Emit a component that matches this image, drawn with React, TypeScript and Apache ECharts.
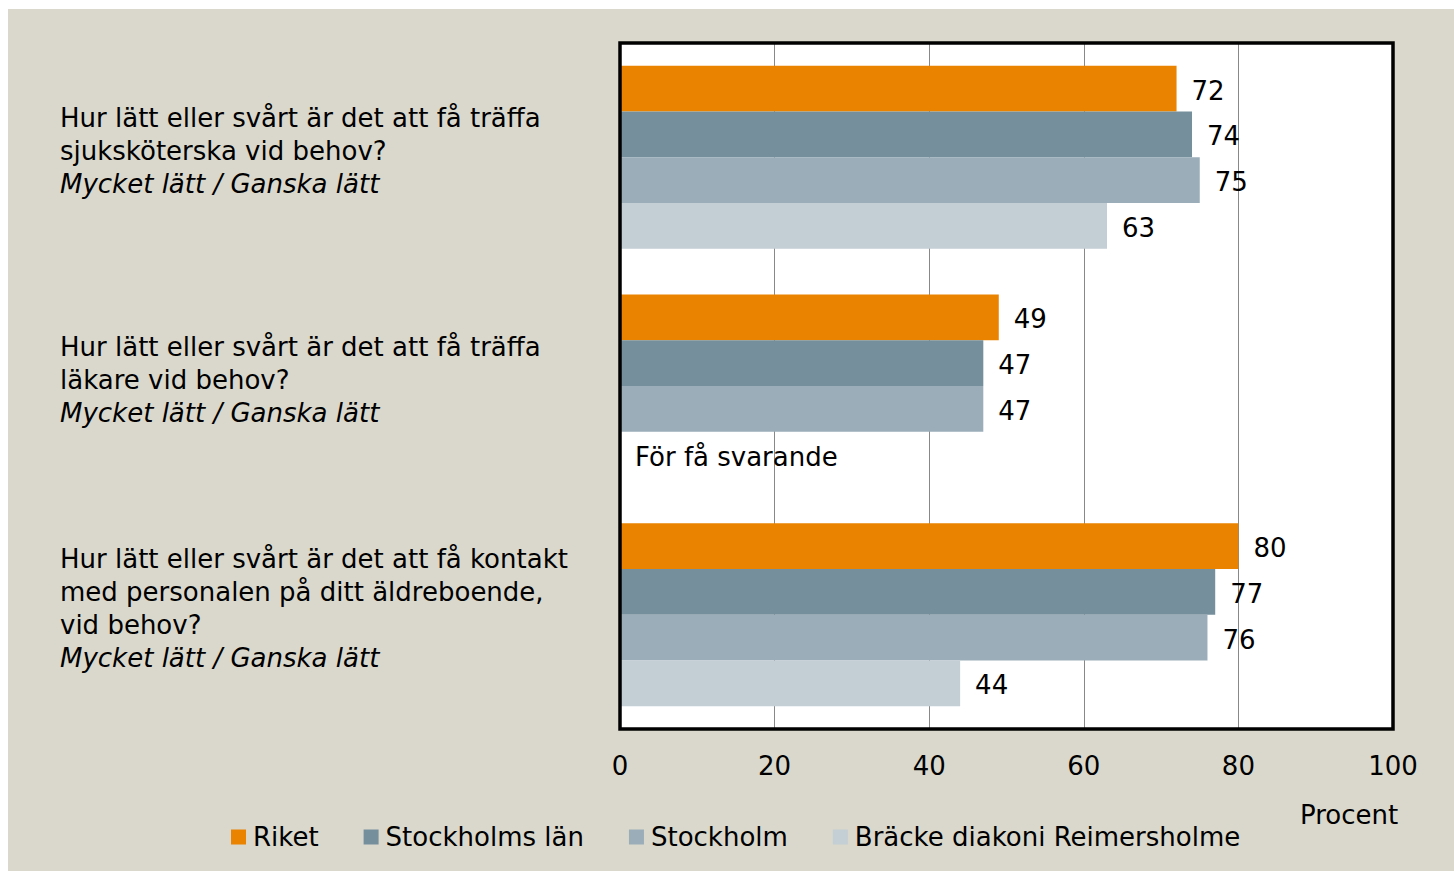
import React, { useEffect, useRef } from "react";
import * as echarts from "echarts";

const questions = [
  "Hur lätt eller svårt är det att få träffa\nsjuksköterska vid behov?",
  "Hur lätt eller svårt är det att få träffa\nläkare vid behov?",
  "Hur lätt eller svårt är det att få kontakt\nmed personalen på ditt äldreboende,\nvid behov?",
];
const subtitle = "Mycket lätt / Ganska lätt";
const seriesNames = ["Riket", "Stockholms län", "Stockholm", "Bräcke diakoni Reimersholme"];
const riket = [72, 49, 80];
const stockholmsLan = [74, 47, 77];
const stockholm = [75, 47, 76];
const bracke: (number | null)[] = [63, null, 44];
const colors = ["#E98300", "#758F9C", "#9AADB8", "#C3CED5"];
const xTicks = { min: 0, max: 100, interval: 20 };
const missingText = "För få svarande";

const FONT = "DejaVu Sans";
const G = { left: 612, top: 34, width: 773, height: 686 };

export default function App() {
  const ref = useRef<HTMLDivElement>(null);
  useEffect(() => {
    if (!ref.current) return;
    const chart = echarts.init(ref.current, null, { renderer: "svg" });
    const values = [riket, stockholmsLan, stockholm, bracke];
    const series = values.map((vals, i) => ({
      name: seriesNames[i],
      type: "bar",
      barGap: "0%",
      barCategoryGap: "20%",
      itemStyle: { color: colors[i] },
      label: {
        show: true,
        position: "right",
        distance: 15,
        offset: [0, 2],
        color: "#000",
        fontFamily: FONT,
        fontSize: 26,
      },
      data: vals.map((v) =>
        v === null ? { value: 0, label: { formatter: missingText } } : v
      ),
    }));
    chart.setOption({
      animation: false,
      backgroundColor: "#DAD8CC",
      textStyle: { fontFamily: FONT },
      grid: {
        left: G.left,
        top: G.top,
        width: G.width,
        height: G.height,
        show: true,
        backgroundColor: "#fff",
        borderWidth: 0,
        containLabel: false,
      },
      legend: {
        data: seriesNames,
        left: 218,
        top: 810,
        icon: "rect",
        itemWidth: 15,
        itemHeight: 15,
        itemGap: 45,
        textStyle: { fontFamily: FONT, fontSize: 26, color: "#000", padding: [0, 0, 0, 2] },
      },
      xAxis: {
        type: "value",
        min: xTicks.min,
        max: xTicks.max,
        interval: xTicks.interval,
        axisLine: { show: false },
        axisTick: { show: false },
        splitLine: { show: true, lineStyle: { color: "#888", width: 1 } },
        axisLabel: { fontFamily: FONT, fontSize: 26, color: "#000", margin: 24 },
      },
      yAxis: {
        type: "category",
        inverse: true,
        data: questions,
        axisLine: { show: false },
        axisTick: { show: false },
        axisLabel: {
          align: "left",
          margin: 560,
          padding: [0, 0, 13, 0],
          formatter: (val: string) =>
            val
              .split("\n")
              .map((l) => `{q|${l}}`)
              .join("\n") + `\n{s|${subtitle}}`,
          rich: {
            q: { fontFamily: FONT, fontSize: 26, lineHeight: 33, color: "#000" },
            s: {
              fontFamily: FONT,
              fontSize: 26,
              lineHeight: 33,
              fontStyle: "italic",
              color: "#000",
            },
          },
        },
      },
      graphic: [
        {
          type: "rect",
          z: 100,
          shape: { x: G.left, y: G.top, width: G.width, height: G.height },
          style: { fill: "none", stroke: "#000", lineWidth: 3.5 },
        },
        {
          type: "text",
          left: 1292,
          top: 793,
          style: { text: "Procent", fontFamily: FONT, fontSize: 26, fill: "#000" },
        },
      ],
      series,
    });
    return () => chart.dispose();
  }, []);
  return (
    <div
      ref={ref}
      style={{ position: "fixed", left: 8, top: 9, width: 1446, height: 862 }}
    />
  );
}
